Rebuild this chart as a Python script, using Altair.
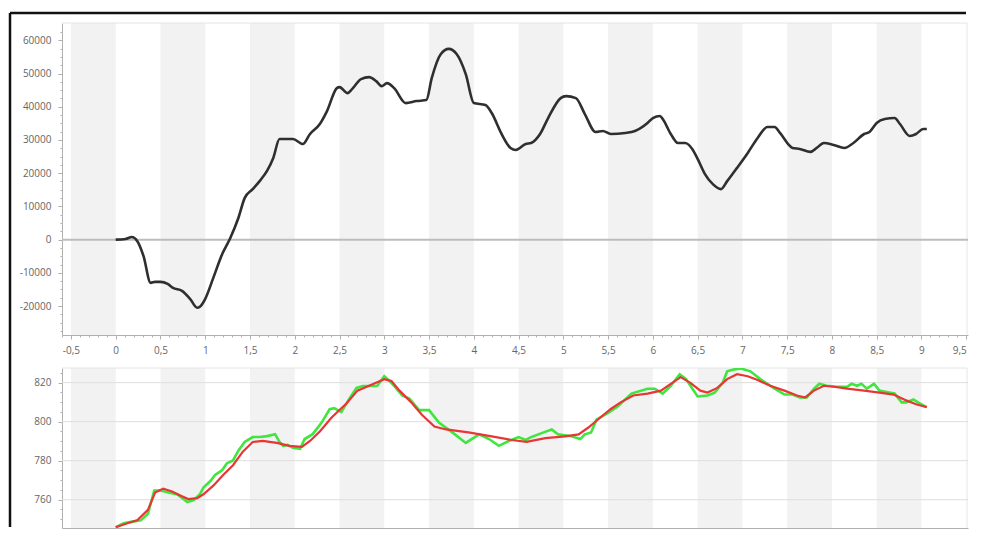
import altair as alt
import pandas as pd

# ---------------- data ----------------
top_x = [0.0, 0.11, 0.18, 0.24, 0.31, 0.39, 0.44, 0.5, 0.58, 0.64, 0.74, 0.83, 0.91, 0.94, 1.0,
         1.09, 1.19, 1.28, 1.37, 1.44, 1.53, 1.61, 1.69, 1.76, 1.83, 1.91, 1.98, 2.09, 2.17, 2.28,
         2.36, 2.47, 2.5, 2.59, 2.64, 2.74, 2.83, 2.91, 2.97, 3.03, 3.11, 3.24, 3.36, 3.47, 3.53,
         3.63, 3.72, 3.81, 3.91, 4.0, 4.13, 4.2, 4.31, 4.41, 4.47, 4.58, 4.64, 4.74, 4.83, 4.97,
         5.03, 5.14, 5.24, 5.36, 5.44, 5.53, 5.69, 5.8, 5.94, 6.0, 6.08, 6.11, 6.2, 6.28, 6.36,
         6.44, 6.5, 6.58, 6.67, 6.76, 6.83, 6.94, 7.06, 7.17, 7.28, 7.36, 7.42, 7.56, 7.64, 7.76,
         7.83, 7.91, 8.02, 8.14, 8.24, 8.36, 8.42, 8.5, 8.59, 8.7, 8.76, 8.87, 8.94, 9.02, 9.06]
top_y = [0, 200, 800, -400, -4900, -13000, -12700, -12700, -13300, -14500, -15400, -17800, -20500, -20200, -17800,
         -11500, -4300, 500, 6500, 12500, 15200, 17700, 20700, 24600, 30300, 30300, 30300, 28800, 31800, 34800,
         38700, 45600, 45900, 44100, 45300, 48300, 48900, 47700, 46200, 47100, 45600, 41100, 41700, 42000, 48600,
         55800, 57400, 55800, 49800, 41100, 40500, 38100, 31800, 27600, 27000, 28800, 29100, 31800, 36600, 42600,
         43200, 42600, 37800, 32400, 32700, 31800, 32100, 32700, 35100, 36600, 37200, 36300, 31800, 29100, 29100,
         27300, 24300, 19800, 16700, 15200, 17600, 21600, 26100, 30600, 33900, 33900, 32100, 27600, 27300, 26400,
         27600, 29100, 28500, 27600, 29100, 31800, 32400, 35100, 36300, 36600, 34800, 31200, 31800, 33300, 33300]

green_x = [0.0, 0.09, 0.2, 0.28, 0.36, 0.43, 0.5, 0.59, 0.69, 0.8, 0.87, 0.94, 0.98, 1.06, 1.11,
           1.19, 1.24, 1.31, 1.37, 1.44, 1.53, 1.61, 1.69, 1.78, 1.83, 1.87, 1.92, 1.98, 2.06, 2.11,
           2.2, 2.3, 2.39, 2.44, 2.52, 2.61, 2.69, 2.76, 2.83, 2.92, 3.0, 3.06, 3.13, 3.2, 3.28,
           3.39, 3.5, 3.61, 3.76, 3.91, 4.06, 4.17, 4.28, 4.39, 4.5, 4.58, 4.64, 4.78, 4.87, 4.94,
           5.09, 5.19, 5.24, 5.31, 5.37, 5.5, 5.61, 5.76, 5.94, 6.02, 6.11, 6.2, 6.3, 6.37, 6.42,
           6.5, 6.61, 6.69, 6.78, 6.83, 6.91, 6.98, 7.09, 7.2, 7.36, 7.47, 7.56, 7.64, 7.72, 7.8,
           7.86, 7.94, 8.06, 8.17, 8.22, 8.28, 8.33, 8.39, 8.47, 8.53, 8.64, 8.7, 8.78, 8.83, 8.91,
           8.98, 9.06]
green_y = [745.9, 747.9, 748.9, 749.4, 752.8, 764.7, 764.7, 763.7, 762.7, 758.8, 759.8, 762.8, 766.2, 769.7, 772.7,
           775.2, 778.6, 780.1, 785.1, 789.6, 792.1, 792.1, 792.6, 793.6, 789.6, 787.6, 788.1, 786.6, 786.1, 791.1,
           793.6, 799.5, 806.4, 806.9, 804.9, 811.8, 817.3, 818.3, 818.3, 818.3, 823.3, 820.8, 817.3, 813.4, 811.8,
           805.9, 805.9, 799.5, 794.5, 789.1, 793.5, 791.1, 787.6, 790.1, 792.1, 790.6, 792.1, 794.5, 796.0, 793.5,
           792.5, 791.1, 793.5, 794.5, 801.0, 804.5, 807.9, 814.4, 816.9, 816.9, 814.4, 818.4, 824.3, 821.8, 818.4,
           812.9, 813.4, 814.9, 819.9, 825.8, 826.8, 827.3, 825.8, 821.8, 816.9, 813.9, 813.9, 812.4, 812.4, 816.9,
           819.4, 818.4, 817.9, 817.9, 819.4, 818.4, 819.4, 816.9, 819.4, 815.9, 814.9, 814.4, 809.9, 809.9, 811.4,
           809.4, 807.4]

red_x = [0.0, 0.13, 0.24, 0.36, 0.44, 0.53, 0.63, 0.72, 0.81, 0.91, 0.98, 1.09, 1.2, 1.31, 1.42,
         1.53, 1.64, 1.8, 1.94, 2.08, 2.17, 2.28, 2.39, 2.42, 2.58, 2.7, 2.83, 3.0, 3.08, 3.17,
         3.31, 3.42, 3.56, 3.69, 3.94, 4.2, 4.42, 4.59, 4.8, 5.02, 5.17, 5.28, 5.41, 5.53, 5.64,
         5.78, 5.94, 6.09, 6.2, 6.31, 6.42, 6.53, 6.61, 6.72, 6.83, 6.94, 7.06, 7.17, 7.31, 7.47,
         7.61, 7.7, 7.8, 7.91, 8.02, 8.17, 8.36, 8.53, 8.69, 8.83, 8.94, 9.06]
red_y = [745.9, 747.9, 749.4, 754.8, 763.7, 765.7, 764.2, 762.2, 760.3, 760.8, 762.8, 767.2, 772.7, 777.7, 784.6,
         789.6, 790.1, 789.1, 787.6, 787.1, 790.1, 795.0, 801.0, 802.5, 809.4, 815.9, 818.4, 821.8, 820.8, 815.9,
         809.4, 803.5, 797.5, 796.0, 794.5, 792.5, 790.6, 789.6, 791.6, 792.5, 793.5, 797.0, 802.0, 806.5, 809.9,
         813.4, 814.4, 815.9, 819.4, 822.8, 819.9, 815.9, 814.9, 817.3, 821.8, 824.3, 823.3, 821.3, 818.4, 815.9,
         813.4, 812.4, 815.9, 818.4, 817.9, 816.9, 815.9, 814.9, 813.9, 810.9, 808.9, 807.4]

band_starts = [-0.5, 0.5, 1.5, 2.5, 3.5, 4.5, 5.5, 6.5, 7.5, 8.5, 9.5]
band_width = 0.5

bottom_major = [760, 780, 800, 820]

# ---------------- layout / style ----------------
X_DOMAIN = [-0.6, 9.52]
TOP_DOMAIN = [-28700, 65200]
BOT_DOMAIN = [745.5, 827.5]
W = 906
H_TOP = 312
H_BOT = 160
X_AXIS_EXT = 20
GAP = 13
FONT = "Open Sans"
LABEL_COLOR = "#666666"
AXIS_COLOR = "#b0b0b0"

x_ticks = [round(i * 0.1, 1) for i in range(-6, 96)]
top_ticks = list(range(-27500, 65000, 2500))
bot_ticks = list(range(750, 830, 5))

bands = pd.DataFrame({"start": band_starts, "end": [b + band_width for b in band_starts]})
top_df = pd.DataFrame({"x": top_x, "y": top_y})
green_df = pd.DataFrame({"x": green_x, "y": green_y})
red_df = pd.DataFrame({"x": red_x, "y": red_y})
one = pd.DataFrame({"z": [0]})


def x_axis_top():
    major = "abs(datum.value*2 - round(datum.value*2)) < 0.001"
    return alt.Axis(
        values=x_ticks,
        labelExpr=f"{major} ? replace(toString(round(datum.value*10)/10), '.', ',') : ''",
        tickSize={"condition": {"test": major, "value": 4}, "value": 2},
        tickColor=AXIS_COLOR, domainColor=AXIS_COLOR, grid=False, title=None,
        labelFont=FONT, labelFontSize=10, labelColor=LABEL_COLOR, labelPadding=6,
        labelFlush=6, labelOverlap=False, minExtent=X_AXIS_EXT, maxExtent=X_AXIS_EXT,
    )


def x_axis_bottom():
    return alt.Axis(labels=False, ticks=False, grid=False, title=None,
                    domainColor=AXIS_COLOR, minExtent=0, maxExtent=0)


def y_axis(major_step, ticks):
    test = f"datum.value % {major_step} === 0"
    return alt.Axis(
        values=ticks,
        labelExpr=f"{test} ? toString(datum.value) : ''",
        tickSize={"condition": {"test": test, "value": 4}, "value": 2},
        tickColor=AXIS_COLOR, domainColor=AXIS_COLOR, title=None, grid=False,
        labelFont=FONT, labelFontSize=10, labelColor=LABEL_COLOR, labelPadding=7,
        labelOverlap=False, minExtent=53, maxExtent=53,
    )


def xs(field, axis):
    return alt.X(field, type="quantitative", scale=alt.Scale(domain=X_DOMAIN, nice=False, zero=False), axis=axis)


# ---------------- top panel ----------------
ytop_scale = alt.Scale(domain=TOP_DOMAIN, nice=False, zero=False)

top_bands = alt.Chart(bands).mark_rect(color="#f2f2f2", clip=True).encode(
    x=xs("start", x_axis_top()), x2="end"
)
zero_line = alt.Chart(one).mark_rule(color="#bcbcbc", strokeWidth=2).encode(
    y=alt.Y("z:Q", scale=ytop_scale, axis=y_axis(10000, top_ticks))
)
top_border = alt.Chart(one).mark_rule(color="#e4e4e4", strokeWidth=1).encode(
    x=alt.value(0), x2=alt.value(W - 1), y=alt.value(0)
)
top_line = alt.Chart(top_df).mark_line(color="#2f2f2f", strokeWidth=2.6, interpolate="monotone", clip=True).encode(
    x=xs("x", x_axis_top()),
    y=alt.Y("y:Q", scale=ytop_scale, axis=y_axis(10000, top_ticks)),
)
frame_top = alt.Chart(one).mark_rule(color="#111111", strokeWidth=2.5).encode(
    x=alt.value(-52), x2=alt.value(W - 2), y=alt.value(-10)
)
frame_left = alt.Chart(one).mark_rule(color="#111111", strokeWidth=2.5).encode(
    x=alt.value(-52), y=alt.value(-10), y2=alt.value(H_TOP + X_AXIS_EXT + GAP + H_BOT - 1)
)

top = alt.layer(top_bands, zero_line, top_border, top_line, frame_top, frame_left).properties(
    width=W, height=H_TOP
)

# ---------------- bottom panel ----------------
ybot_scale = alt.Scale(domain=BOT_DOMAIN, nice=False, zero=False)

bot_bands = alt.Chart(bands).mark_rect(color="#f2f2f2", clip=True).encode(
    x=xs("start", x_axis_bottom()), x2="end"
)
bot_grid = alt.Chart(pd.DataFrame({"g": bottom_major})).mark_rule(color="#dedede", strokeWidth=1).encode(
    y=alt.Y("g:Q", scale=ybot_scale, axis=y_axis(20, bot_ticks))
)
bot_border = alt.Chart(one).mark_rule(color="#e4e4e4", strokeWidth=1).encode(
    x=alt.value(0), x2=alt.value(W - 1), y=alt.value(0)
)
green_line = alt.Chart(green_df).mark_line(color="#3ee63e", strokeWidth=2.6, clip=True).encode(
    x=xs("x", x_axis_bottom()),
    y=alt.Y("y:Q", scale=ybot_scale, axis=y_axis(20, bot_ticks)),
)
red_line = alt.Chart(red_df).mark_line(color="#e83535", strokeWidth=2.2, clip=True).encode(
    x=xs("x", x_axis_bottom()),
    y=alt.Y("y:Q", scale=ybot_scale, axis=y_axis(20, bot_ticks)),
)

bottom = alt.layer(bot_bands, bot_grid, bot_border, green_line, red_line).properties(
    width=W, height=H_BOT
)

chart = alt.vconcat(top, bottom, spacing=X_AXIS_EXT + GAP, bounds="flush").properties(
    padding={"left": 0, "top": 3, "right": 0, "bottom": 0},
    background="white",
).configure_view(stroke=None)

chart.save("out.html", embed_options={"renderer": "svg", "actions": False})
